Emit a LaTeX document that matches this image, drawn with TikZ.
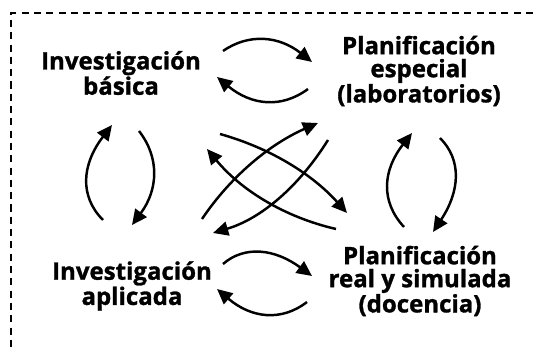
\documentclass[tikz,border=0pt]{standalone}
\usepackage{fontspec}
\setmainfont{Open Sans}[BoldFeatures={FakeBold=1.2}]
\usetikzlibrary{arrows.meta}
\tikzset{flow/.style={-{Triangle[length=13pt,width=12pt]},line width=2.1pt},
 stage/.style={align=center,inner sep=0pt,font=\bfseries\fontsize{20.5}{19.6}\selectfont},
 frame/.style={line width=1.3pt,dash pattern=on 6pt off 4.5pt}}

\begin{document}
\begin{tikzpicture}[x=0.03cm,y=-0.03cm]
\useasboundingbox (0,0) rectangle (533,347);
\draw[frame] (533,13) -| (11,347);
\node[stage] (ib) at (121,73) {Investigación\\básica};
\node[stage] (pe) at (419,71) {Planificación\\especial\\(laboratorios)};
\node[stage] (ia) at (132,286) {Investigación\\aplicada};
\node[stage] (pr) at (420,281) {Planificación\\real y simulada\\(docencia)};
% free ends of the arrows
\coordinate (ibpe1) at (223,51);  \coordinate (ibpe2) at (312,62);
\coordinate (peib1) at (308,89);  \coordinate (peib2) at (217,77);
\coordinate (iapr1) at (223,264); \coordinate (iapr2) at (312,276);
\coordinate (pria1) at (307,302); \coordinate (pria2) at (217,289);
\coordinate (iaib1) at (103,220); \coordinate (iaib2) at (112,125);
\coordinate (ibia1) at (139,131); \coordinate (ibia2) at (132,225);
\coordinate (prpe1) at (404,227); \coordinate (prpe2) at (412,133);
\coordinate (pepr1) at (440,138); \coordinate (pepr2) at (433,232);
\coordinate (iape1) at (202,219); \coordinate (iape2) at (318,123);
\coordinate (peia1) at (328,140); \coordinate (peia2) at (213,233);
\coordinate (ibpr1) at (220,134); \coordinate (ibpr2) at (347,213);
\coordinate (prib1) at (336,229); \coordinate (prib2) at (207,149);
% horizontal pairs
\draw[flow] (ibpe1) .. controls (249,33) and (279,36) .. (ibpe2);
\draw[flow] (peib1) .. controls (281,109) and (251,105) .. (peib2);
\draw[flow] (iapr1) .. controls (245,245) and (275,249) .. (iapr2);
\draw[flow] (pria1) .. controls (281,322) and (251,318) .. (pria2);
% vertical pairs
\draw[flow] (iaib1) .. controls (79,196) and (82,164) .. (iaib2);
\draw[flow] (ibia1) .. controls (160,158) and (158,190) .. (ibia2);
\draw[flow] (prpe1) .. controls (380,201) and (383,170) .. (prpe2);
\draw[flow] (pepr1) .. controls (462,160) and (460,191) .. (pepr2);
% diagonals
\draw[flow] (iape1) .. controls (231,176) and (270,144) .. (iape2);
\draw[flow] (peia1) .. controls (298,188) and (260,219) .. (peia2);
\draw[flow] (ibpr1) .. controls (270,148) and (312,174) .. (ibpr2);
\draw[flow] (prib1) .. controls (284,217) and (241,190) .. (prib2);
\end{tikzpicture}
\end{document}
